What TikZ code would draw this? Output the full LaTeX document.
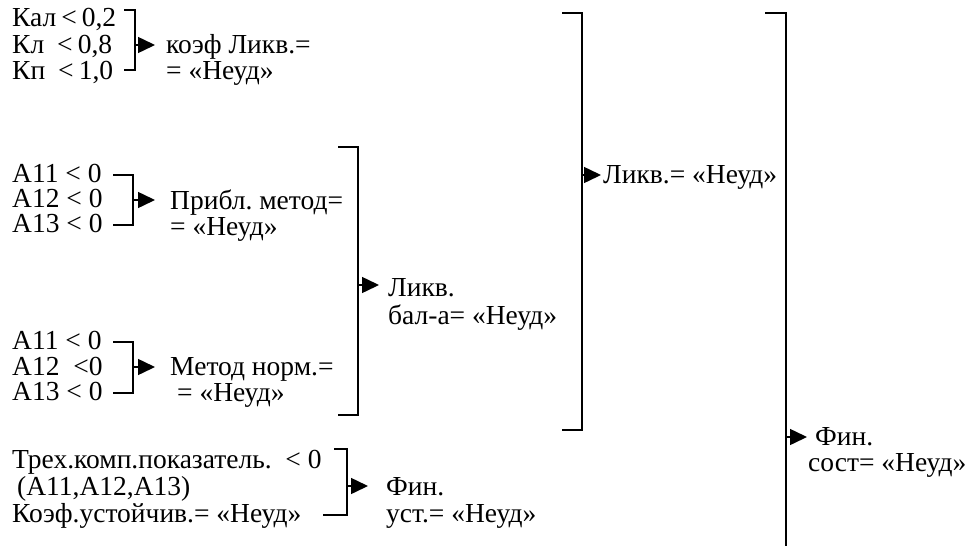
\documentclass[tikz,border=0pt]{standalone}
\usepackage{fontspec}
\setmainfont{Liberation Serif}
\usetikzlibrary{arrows.meta}
\frenchspacing
\begin{document}
\begin{tikzpicture}[x=1pt,y=-1pt,
  txt/.style={anchor=base west, inner sep=0pt, font=\fontsize{27.5}{29}\selectfont},
  brk/.style={line width=1.5pt},
  arr/.style={line width=1.5pt, -{Triangle[length=17pt,width=16pt]}}]
\useasboundingbox (0,0) rectangle (968,546);

% ---- group 1
\node[txt] (k1) at (12,27) {Кал\hspace{5pt}<\hspace{5pt}0,2};
\node[txt] (k2) at (12,53) {Кл\hspace{13pt}<\hspace{5pt}0,8};
\node[txt] (k3) at (12,79) {Кп\hspace{13pt}<\hspace{5pt}1,0};
\coordinate (g1a) at (124,10); \coordinate (g1t) at (135,10);
\coordinate (g1b) at (135,70); \coordinate (g1c) at (124,70);
\coordinate (g1m) at (135,45);
\draw[brk] (g1a) -- (g1t) -- (g1b) -- (g1c);
\node[txt] (r1a) at (166,53) {коэф Ликв.=};
\node[txt] (r1b) at (166,79) {= «Неуд»};
\draw[arr, shorten >=11pt] (g1m) -- (g1m -| r1a.west);

% ---- group 2
\node[txt] (a1) at (12,182) {A11 < 0};
\node[txt] (a2) at (12,207) {A12 < 0};
\node[txt] (a3) at (12,232) {A13 < 0};
\coordinate (g2a) at (113,175); \coordinate (g2t) at (133,175);
\coordinate (g2b) at (133,225); \coordinate (g2c) at (113,225);
\coordinate (g2m) at (133,200);
\draw[brk] (g2a) -- (g2t) -- (g2b) -- (g2c);
\node[txt] (r2a) at (170,209) {Прибл. метод=};
\node[txt] (r2b) at (170,235) {= «Неуд»};
\draw[arr, shorten >=15pt] (g2m) -- (g2m -| r2a.west);

% ---- group 3
\node[txt] (c1) at (12,349) {A11 < 0};
\node[txt] (c2) at (12,375) {A12\ \ <0};
\node[txt] (c3) at (12,400) {A13 < 0};
\coordinate (g3a) at (113,342); \coordinate (g3t) at (133,342);
\coordinate (g3b) at (133,393); \coordinate (g3c) at (113,393);
\coordinate (g3m) at (133,367);
\draw[brk] (g3a) -- (g3t) -- (g3b) -- (g3c);
\node[txt] (r3a) at (170,375) {Метод норм.=};
\node[txt] (r3b) at (177,401) {= «Неуд»};
\draw[arr, shorten >=15pt] (g3m) -- (g3m -| r3a.west);

% ---- big bracket 1 (Ликв. бал-а)
\coordinate (B1a) at (338,147); \coordinate (B1t) at (358,147);
\coordinate (B1b) at (358,415); \coordinate (B1c) at (338,415);
\coordinate (B1m) at (358,285);
\draw[brk] (B1a) -- (B1t) -- (B1b) -- (B1c);
\node[txt] (L1) at (388,296) {Ликв.};
\node[txt] (L2) at (388,324) {бал-а= «Неуд»};
\draw[arr, shorten >=9pt] (B1m) -- (B1m -| L1.west);

% ---- group 4
\node[txt] (t1) at (12,468) {Трех.комп.показатель.\ \ < 0};
\node[txt] (t2) at (17,495) {(A11,A12,A13)};
\node[txt] (t3) at (12,522) {Коэф.устойчив.= «Неуд»};
\coordinate (g4a) at (334,449); \coordinate (g4t) at (347,449);
\coordinate (g4b) at (347,515); \coordinate (g4c) at (323,515);
\coordinate (g4m) at (347,486);
\draw[brk] (g4a) -- (g4t) -- (g4b) -- (g4c);
\node[txt] (F1) at (386,495) {Фин.};
\node[txt] (F2) at (386,522) {уст.= «Неуд»};
\draw[arr, shorten >=18pt] (g4m) -- (g4m -| F1.west);

% ---- big bracket 2 (Ликв.)
\coordinate (B2a) at (562,13); \coordinate (B2t) at (582,13);
\coordinate (B2b) at (582,430); \coordinate (B2c) at (562,430);
\coordinate (B2m) at (582,175);
\draw[brk] (B2a) -- (B2t) -- (B2b) -- (B2c);
\node[txt] (LQ) at (603,183) {Ликв.= «Неуд»};
\draw[arr, shorten >=2pt] (B2m) -- (B2m -| LQ.west);

% ---- big bracket 3 (Фин. сост)
\coordinate (B3a) at (765,13); \coordinate (B3t) at (786,13);
\coordinate (B3b) at (786,546);
\coordinate (B3m) at (786,437);
\draw[brk] (B3a) -- (B3t) -- (B3b);
\node[txt] (S1) at (815,445) {Фин.};
\node[txt] (S2) at (808,471) {сост= «Неуд»};
\draw[arr, shorten >=8pt] (B3m) -- (B3m -| S1.west);
\end{tikzpicture}
\end{document}
